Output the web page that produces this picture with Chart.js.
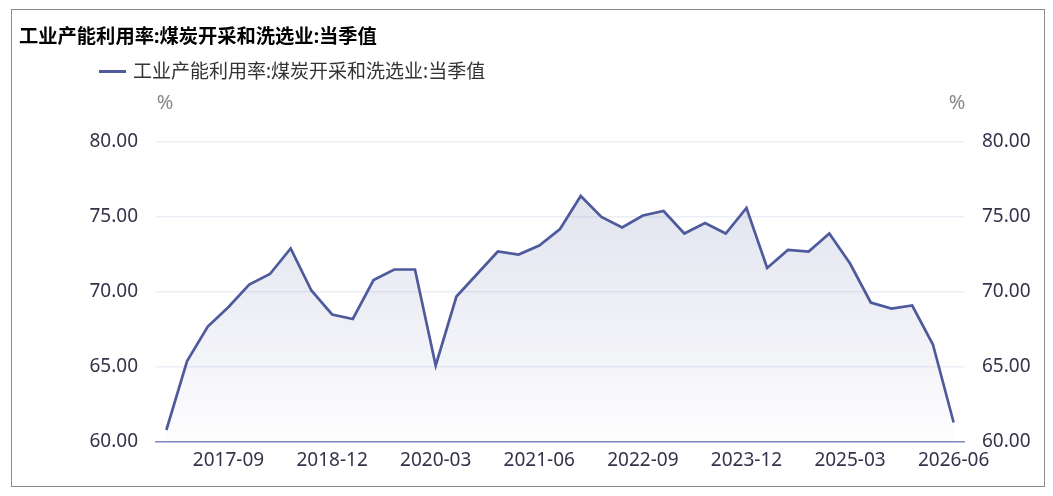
<!DOCTYPE html>
<html>
<head>
<meta charset="utf-8">
<script src="https://cdn.jsdelivr.net/npm/chart.js@4"></script>
<style>
  body { margin: 0; background: #fff; font-family: "Noto Sans", "Noto Sans CJK SC", sans-serif; }
  #box { position: absolute; left: 11px; top: 9px; width: 1034px; height: 478px; box-sizing: border-box; border: 1px solid #8c8c8c; }
  #chart1 { position: absolute; left: 0; top: 0; }
  #title { position: absolute; left: 7px; top: 15px; font-size: 19.3px; line-height: 22px; font-weight: bold; color: #000; white-space: nowrap; }
  #legend { position: absolute; left: 87px; top: 50px; font-size: 19px; line-height: 22px; color: #333; white-space: nowrap; }
  #legend span.mark { display: inline-block; width: 27px; height: 3px; background: #4e5a9c; vertical-align: middle; margin-right: 7px; position: relative; top: -1px; }
</style>
</head>
<body>
<div id="box">
  <canvas id="chart1" width="1032" height="476"></canvas>
  <div id="title">工业产能利用率:煤炭开采和洗选业:当季值</div>
  <div id="legend"><span class="mark"></span>工业产能利用率:煤炭开采和洗选业:当季值</div>
</div>
<script>
const seriesName = "工业产能利用率:煤炭开采和洗选业:当季值";

const quarters = [
  "2016-12",
  "2017-03", "2017-06", "2017-09", "2017-12",
  "2018-03", "2018-06", "2018-09", "2018-12",
  "2019-03", "2019-06", "2019-09", "2019-12",
  "2020-03", "2020-06", "2020-09", "2020-12",
  "2021-03", "2021-06", "2021-09", "2021-12",
  "2022-03", "2022-06", "2022-09", "2022-12",
  "2023-03", "2023-06", "2023-09", "2023-12",
  "2024-03", "2024-06", "2024-09", "2024-12",
  "2025-03", "2025-06", "2025-09", "2025-12",
  "2026-03", "2026-06",
];

const utilization = [
  60.8,
  65.4, 67.7, 69.0, 70.5,
  71.2, 72.9, 70.1, 68.5,
  68.2, 70.8, 71.5, 71.5,
  65.1, 69.7, 71.2, 72.7,
  72.5, 73.1, 74.2, 76.4,
  75.0, 74.3, 75.1, 75.4,
  73.9, 74.6, 73.9, 75.6,
  71.6, 72.8, 72.7, 73.9,
  71.9, 69.3, 68.9, 69.1,
  66.5, 61.3,
];

const shownTicks = ["2017-09", "2018-12", "2020-03", "2021-06", "2022-09", "2023-12", "2025-03", "2026-06"];
const yTicks = [60, 65, 70, 75, 80];

const lineColor = "#4e5a9c";
const tickFont = { family: "'Noto Sans', 'Noto Sans CJK SC', sans-serif", size: 19 };

// "%" unit labels above both y axes
const unitPlugin = {
  id: "unitLabels",
  afterDraw(chart) {
    const { ctx, chartArea } = chart;
    ctx.save();
    ctx.fillStyle = "#8a8a8a";
    ctx.font = "20px 'Noto Sans', sans-serif";
    ctx.textAlign = "center";
    ctx.textBaseline = "middle";
    ctx.fillText("%", chartArea.left + 9, chartArea.top - 39);
    ctx.fillText("%", chartArea.right - 7, chartArea.top - 39);
    ctx.restore();
  },
};

const fillGradient = (context) => {
  const { ctx, chartArea } = context.chart;
  if (!chartArea) return "rgba(78,90,156,0.1)";
  const g = ctx.createLinearGradient(0, chartArea.top, 0, chartArea.bottom);
  g.addColorStop(0, "rgba(78,90,156,0.2)");
  g.addColorStop(1, "rgba(78,90,156,0.01)");
  return g;
};

const canvas1 = document.querySelector("#chart1").getContext("2d");
const myChart = new Chart(canvas1, {
  type: "line",
  data: {
    labels: quarters,
    datasets: [
      {
        label: seriesName,
        data: utilization,
        borderColor: lineColor,
        borderWidth: 2.7,
        backgroundColor: fillGradient,
        fill: "start",
        pointRadius: 0,
        tension: 0,
      },
    ],
  },
  options: {
    responsive: false,
    animation: false,
    layout: { padding: { top: 132, left: 0, right: 0, bottom: 0 } },
    plugins: {
      legend: { display: false },
      title: { display: false },
      tooltip: { enabled: false },
    },
    scales: {
      x: {
        offset: true,
        grid: { display: false, drawTicks: false },
        border: { display: true, color: "#7d8cc4", width: 1.5 },
        ticks: {
          autoSkip: false,
          maxRotation: 0,
          padding: 7,
          color: "#33334a",
          font: tickFont,
          callback: function (value) {
            const lab = this.getLabelForValue(value);
            return shownTicks.includes(lab) ? lab : "";
          },
        },
        afterFit: (scale) => { scale.height = 44; },
      },
      y: {
        position: "left",
        min: 60,
        max: 80,
        afterBuildTicks: (scale) => { scale.ticks = yTicks.map((v) => ({ value: v })); },
        grid: { color: "#eceef5", lineWidth: 1.5, drawTicks: false },
        border: { display: false },
        ticks: {
          padding: 18,
          color: "#33334a",
          font: tickFont,
          callback: (v) => v.toFixed(2),
        },
        afterFit: (scale) => { scale.width = 144; },
      },
      y2: {
        position: "right",
        min: 60,
        max: 80,
        afterBuildTicks: (scale) => { scale.ticks = yTicks.map((v) => ({ value: v })); },
        grid: { display: false, drawTicks: false },
        border: { display: false },
        ticks: {
          padding: 18,
          color: "#33334a",
          font: tickFont,
          callback: (v) => v.toFixed(2),
        },
        afterFit: (scale) => { scale.width = 80; },
      },
    },
  },
  plugins: [unitPlugin],
});
</script>
</body>
</html>
